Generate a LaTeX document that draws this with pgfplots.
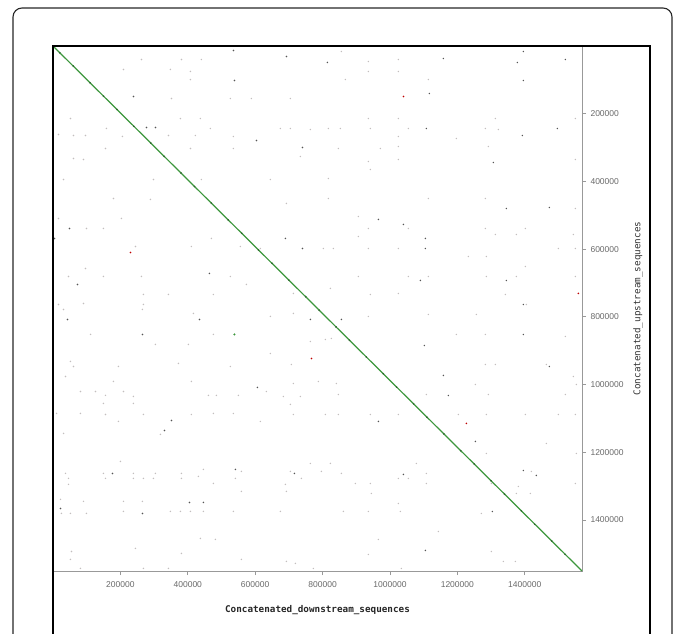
\documentclass[border=0pt]{standalone}
\usepackage{pgfplots}
\pgfplotsset{compat=1.18}
\usepackage{pgfplotstable}
\usepackage{fontspec}
\setmainfont{Liberation Sans}
\newfontfamily\monofont{DejaVu Sans Mono}

\pgfplotstableread{
x y
538500 101900
277400 240800
304100 240800
603800 279200
740300 299800
4500 568600
49000 539100
72700 704500
464300 672000
689800 568600
740300 598200
238800 149200
535500 13300
692800 31000
814400 48700
1158600 36900
1396000 16200
1378200 48700
1520600 39900
1396000 102000
1117100 140300
1108200 243700
1393000 264400
1496800 243700
1307000 344100
1345500 480000
1473100 477100
1105200 568600
1105200 598200
1090400 692700
1345500 692700
1396000 763600
1040000 527300
965800 512500
265500 852200
764000 807900
351600 1106300
330800 1135800
405000 1348500
446500 1348500
265500 1381000
716500 1262800
606700 1008800
176500 1262800
541500 1251000
22300 1366200
43000 807900
434700 807900
856000 807900
1396000 852200
1102200 884700
1473100 946800
1158600 973300
1173400 1032400
1253600 1168300
1396000 1254000
1434500 1268700
1040000 1265800
1105200 1490300
965800 1109200
1304000 1375100
}\darkpts

\pgfplotstableread{
x y
1040000 149200
1559200 731100
767000 923100
229900 610000
1226900 1115100
}\redpts

\pgfplotstableread{
x y
538500 852200
}\greenpts

\pgfplotstableread{
x y
262600 39900
381300 39900
440600 39900
209200 69400
348600 69400
408000 99000
408000 75300
526600 155100
589000 155100
704700 155100
351600 155100
51900 214200
158700 243700
378300 214200
437600 214200
467300 243700
535500 267300
16300 261400
60800 264400
96400 264400
206200 267300
342700 264400
422800 264400
675000 243700
704700 243700
764000 246700
155800 302800
408000 302800
535500 302800
60800 332300
90500 335300
734300 326400
31200 394400
298200 394400
440600 394400
645300 394400
179500 450500
289300 453400
692800 465200
16300 509600
203200 509600
149800 539100
99400 539100
470300 568600
244800 592300
410900 592300
556300 592300
615600 598200
96400 657300
149800 680900
262600 680900
46000 680900
526600 680900
574100 704500
268500 734100
342700 734100
476200 734100
16300 763600
90500 760700
268500 763600
713600 731100
856000 16200
936100 45800
936100 75300
1025100 39900
1025100 75300
867900 99000
1114100 99000
936100 214200
1025100 214200
1313000 214200
1550300 214200
817400 243700
853100 243700
942000 243700
1054800 243700
1283300 243700
1321900 246700
1197200 273200
1025100 267300
1025100 296900
847100 302800
971700 302800
1292200 296900
936100 341200
1025100 335300
1550300 335300
942000 364800
817400 391400
817400 450500
1114100 450500
1283300 450500
1550300 480000
906400 503700
936100 539100
1283300 539100
1401900 539100
1054800 539100
906400 562700
1313000 556800
1375200 556800
1544300 556800
802600 598200
832300 598200
936100 598200
1025100 598200
1499800 598200
1550300 598200
1232800 621800
1286200 621800
1401900 651400
906400 680900
1054800 680900
1114100 680900
1286200 680900
1375200 680900
1550300 680900
823400 716300
942000 734100
1025100 731100
1342600 734100
1404900 763600
31200 778400
265500 778400
416900 790200
645300 799000
713600 790200
111300 852200
476200 852200
402000 881800
304100 881800
764000 872900
645300 908400
51900 932000
60800 946800
37100 976300
194300 946800
372400 937900
526600 946800
707600 940900
410900 991100
179500 991100
713600 997000
81600 1020700
126100 1020700
155800 1032400
209200 1020700
238800 1035400
461400 1032400
485100 1032400
550400 1032400
633400 1020700
683900 1035400
734300 1035400
149800 1056100
238800 1056100
704700 1059000
10400 1085600
81600 1085600
155800 1088600
268500 1088600
410900 1088600
476200 1085600
535500 1085600
713600 1088600
194300 1109200
615600 1109200
31200 1144700
319000 1147600
200300 1227400
764000 1233300
37100 1262800
149800 1262800
238800 1262800
304100 1262800
381300 1262800
446500 1251000
559300 1256900
704700 1256900
46000 1277600
155800 1277600
238800 1277600
268500 1277600
298200 1277600
381300 1277600
431700 1271700
541500 1277600
737300 1277600
46000 1295300
476200 1292400
559300 1316000
689800 1295300
692800 1316000
22300 1339600
90500 1345500
209200 1345500
265500 1345500
25200 1381000
51900 1381000
99400 1381000
209200 1375100
348600 1375100
378300 1375100
408000 1375100
446500 1375100
535500 1375100
675000 1375100
437600 1454900
482100 1457800
244800 1484400
54900 1493300
51900 1516900
381300 1499200
692800 1522800
719500 1528700
81600 1543500
268500 1543500
342700 1543500
559300 1516900
772900 1543500
808500 867000
826300 864000
936100 799000
1114100 793100
1256500 793100
1197200 852200
1283300 852200
1520600 858100
1283300 940900
1313000 940900
1464200 940900
1544300 976300
787800 991100
841200 997000
847100 1029600
1108200 1029600
1253600 1000000
1292200 1029600
1520600 1029600
1553200 1000000
808500 1088600
847100 1088600
942000 1088600
1025100 1088600
1203100 1088600
1286200 1088600
1401900 1088600
1499800 1088600
1550300 1088600
1464200 1174200
1286200 1203700
1553200 1203700
823400 1233300
1078500 1233300
856000 1262800
1108200 1262800
1419700 1256900
796700 1256900
897500 1292400
942000 1292400
1025100 1277600
1054800 1277600
1108200 1292400
1301100 1292400
1381200 1301200
1550300 1292400
945000 1321900
1375200 1321900
1416800 1321900
1025100 1351500
862000 1375100
936100 1375100
1031100 1375100
1271400 1381000
1143800 1434200
965800 1457800
1301100 1493300
936100 1502100
1336700 1522800
1372300 1522800
1034000 1543500
}\faintpts

\pgfplotstableread{
x y
20000 19800
60000 59300
110000 108700
150000 148200
190000 187700
240000 237100
290000 286500
330000 326000
380000 375400
420000 415000
470000 464400
520000 513800
560000 553300
610000 602700
650000 642200
700000 691600
750000 741000
790000 780500
840000 829900
880000 869400
930000 918800
980000 968200
1020000 1007800
1070000 1057200
1110000 1096700
1160000 1146100
1210000 1195500
1250000 1235000
1300000 1284400
1340000 1323900
1390000 1373300
1430000 1412800
1480000 1462200
1520000 1501800
}\diagpts

\definecolor{diaggreen}{RGB}{60,150,60}
\definecolor{ticktext}{RGB}{105,105,105}
\definecolor{faintc}{RGB}{195,190,190}
\definecolor{darkc}{RGB}{85,85,85}

\begin{document}
\begin{tikzpicture}
\useasboundingbox (0pt,0pt) rectangle (677pt,634pt);
\begin{axis}[
  at={(53pt,63pt)}, anchor=south west,
  scale only axis, width=529pt, height=525pt,
  xmin=0, xmax=1570000, ymin=0, ymax=1551000,
  y dir=reverse,
  axis line style={draw=gray!80, line width=0.7pt},
  xtick={200000,400000,600000,800000,1000000,1200000,1400000},
  ytick={200000,400000,600000,800000,1000000,1200000,1400000},
  xtick pos=bottom, ytick pos=right,
  yticklabel pos=right,
  tick align=outside, major tick length=4pt,
  tick style={draw=gray!80, line width=0.6pt},
  scaled x ticks=false, scaled y ticks=false,
  /pgf/number format/fixed, /pgf/number format/1000 sep={},
  /pgf/number format/assume math mode=true,
  ticklabel style={font=\fontsize{8.5}{10}\selectfont, text=ticktext},
  xticklabel style={yshift=-3pt},
  yticklabel style={xshift=1pt},
  xlabel={Concatenated\_downstream\_sequences},
  ylabel={Concatenated\_upstream\_sequences},
  xlabel style={at={(axis description cs:0.5,0)}, anchor=center, yshift=-39pt,
    font=\monofont\bfseries\fontsize{9.3}{11}\selectfont, text=black!85},
  ylabel style={at={(axis description cs:1,0.5)}, anchor=center, yshift=-56pt,
    font=\monofont\fontsize{9.3}{11}\selectfont, text=black!80},
  clip=true,
]
\addplot[only marks, mark=*, mark size=0.5pt, color=faintc, mark options={draw=none, fill=faintc}] table {\faintpts};
\addplot[only marks, mark=*, mark size=0.55pt, color=darkc, mark options={draw=none, fill=darkc}] table {\darkpts};
\addplot[only marks, mark=*, mark size=0.6pt, color=red!75!black, mark options={draw=none, fill=red!75!black}] table {\redpts};
\addplot[only marks, mark=*, mark size=0.8pt, color=diaggreen, mark options={draw=none, fill=diaggreen}] table {\greenpts};
\addplot[diaggreen, line width=1.2pt] coordinates {(0,0) (1570000,1551000)};
\addplot[only marks, mark=*, mark size=0.6pt, color=green!25!black!80, mark options={draw=none, fill=green!25!black!80}] table {\diagpts};
\end{axis}
\draw[black!85, line width=1.1pt, rounded corners=9pt] (13pt,-5pt) -- (13pt,626pt) -- (672pt,626pt) -- (672pt,-5pt);
\draw[black, line width=1.1pt] (53pt,-5pt) -- (53pt,588pt) -- (650pt,588pt) -- (650pt,-5pt);
\end{tikzpicture}
\end{document}
